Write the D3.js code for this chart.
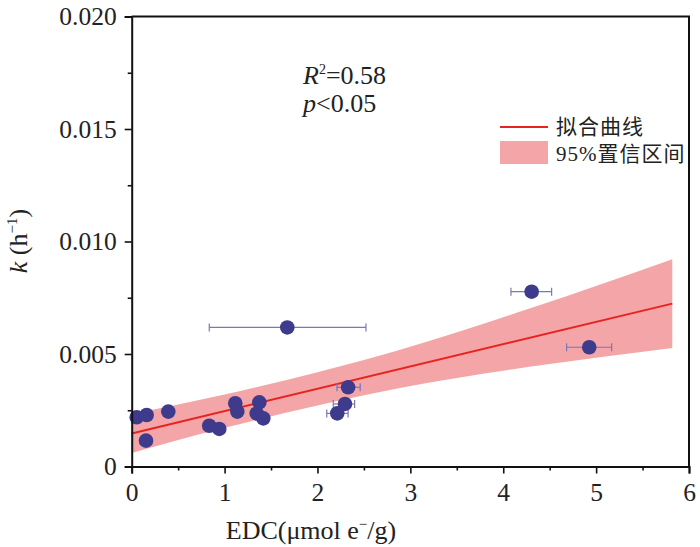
<!DOCTYPE html>
<html>
<head>
<meta charset="utf-8">
<script src="https://cdn.jsdelivr.net/npm/d3@7"></script>
<style>
  body { margin: 0; background: #fff; }
  svg { display: block; }
  text { font-family: "Liberation Serif", "Noto Sans CJK SC", serif; }
</style>
</head>
<body>
<script>
// points: EDC (umol e-/g) vs k (h^-1)
const edc = [0.054, 0.161, 0.154, 0.394, 0.835, 0.943, 1.115, 1.137, 1.374, 1.346, 1.417, 1.675, 2.213, 2.296, 2.33, 4.306, 4.926];
const kVal = [0.00219, 0.00229, 0.00115, 0.00244, 0.00181, 0.00167, 0.00281, 0.00244, 0.00285, 0.00236, 0.00214, 0.00618, 0.00236, 0.00278, 0.00352, 0.00777, 0.0053];
// horizontal error bars (low, high); null = no bar drawn
const edcLow = [null, null, null, null, null, null, null, null, null, null, null, 0.835, 2.10, 2.17, 2.21, 4.083, 4.682];
const edcHigh = [null, null, null, null, null, null, null, null, null, null, null, 2.522, 2.33, 2.40, 2.46, 4.521, 5.167];

// fitted line and 95% band
const fitX = [0, 5.82];
const fitY = [0.00147, 0.00724];
const bandX = [0, 1, 2, 2.9, 4.3, 5.82];
const bandLow = [0.00060, 0.00172, 0.00271, 0.00350, 0.00444, 0.00527];
const bandHigh = [0.00234, 0.00320, 0.00419, 0.00520, 0.00704, 0.00921];

const xTicks = [0, 1, 2, 3, 4, 5, 6];
const xMinor = [0.5, 1.5, 2.5, 3.5, 4.5, 5.5];
const yTicks = [0, 0.005, 0.010, 0.015, 0.020];
const yMinor = [0.0025, 0.0075, 0.0125, 0.0175];

const legendLabels = ["拟合曲线", "95%置信区间"];

const width = 700, height = 547;
const margin = {top: 16.5, right: 11, bottom: 80.5, left: 131.7};

const svg = d3.select("body").append("svg")
    .attr("width", width)
    .attr("height", height);

const x = d3.scaleLinear().domain([0, 6]).range([margin.left, width - margin.right]);
const y = d3.scaleLinear().domain([0, 0.02]).range([height - margin.bottom, margin.top]);

// band
svg.append("path")
    .datum(bandX.map((d, i) => ({x: d, lo: bandLow[i], hi: bandHigh[i]})))
    .attr("fill", "#f4a5a7")
    .attr("d", d3.area()
        .x(d => x(d.x))
        .y0(d => y(d.lo))
        .y1(d => y(d.hi))
        .curve(d3.curveMonotoneX));

// fit line
svg.append("path")
    .datum(fitX.map((d, i) => [d, fitY[i]]))
    .attr("fill", "none")
    .attr("stroke", "#e8231f")
    .attr("stroke-width", 2)
    .attr("d", d3.line().x(d => x(d[0])).y(d => y(d[1])));

// error bars
const pts = edc.map((d, i) => ({x: d, y: kVal[i], lo: edcLow[i], hi: edcHigh[i]}));
const err = svg.append("g")
    .attr("stroke", "#7a76b8")
    .attr("stroke-width", 1.2)
  .selectAll("g")
  .data(pts.filter(d => d.lo != null))
  .join("g");
err.append("line")
    .attr("x1", d => x(d.lo)).attr("x2", d => x(d.hi))
    .attr("y1", d => y(d.y)).attr("y2", d => y(d.y));
err.append("line")
    .attr("x1", d => x(d.lo)).attr("x2", d => x(d.lo))
    .attr("y1", d => y(d.y) - 4).attr("y2", d => y(d.y) + 4);
err.append("line")
    .attr("x1", d => x(d.hi)).attr("x2", d => x(d.hi))
    .attr("y1", d => y(d.y) - 4).attr("y2", d => y(d.y) + 4);

// points
svg.append("g")
  .selectAll("circle")
  .data(pts)
  .join("circle")
    .attr("cx", d => x(d.x))
    .attr("cy", d => y(d.y))
    .attr("r", 7.3)
    .attr("fill", "#3e3a8c");

// axes
svg.append("g")
    .attr("transform", `translate(0,${y(0)})`)
    .call(d3.axisBottom(x).tickValues(xTicks).tickSize(7).tickPadding(9).tickFormat(d3.format("d")));
svg.append("g")
    .attr("transform", `translate(0,${y(0)})`)
    .call(d3.axisBottom(x).tickValues(xMinor).tickSize(4).tickFormat(""))
    .call(g => g.select(".domain").remove());

svg.append("g")
    .attr("transform", `translate(${x(0)},0)`)
    .call(d3.axisLeft(y).tickValues(yTicks).tickSize(7).tickPadding(8)
        .tickFormat(d => d === 0 ? "0" : d3.format(".3f")(d)));
svg.append("g")
    .attr("transform", `translate(${x(0)},0)`)
    .call(d3.axisLeft(y).tickValues(yMinor).tickSize(4).tickFormat(""))
    .call(g => g.select(".domain").remove());

svg.selectAll(".domain").attr("stroke-width", 2).attr("stroke", "#111");
svg.selectAll(".tick line").attr("stroke-width", 1.6).attr("stroke", "#111");
svg.selectAll(".tick text").attr("font-size", 25.5).attr("fill", "#222");

// frame top and right
svg.append("path")
    .attr("fill", "none")
    .attr("stroke", "#111")
    .attr("stroke-width", 2)
    .attr("d", `M${x(0)},${y(0.02)}H${x(6)}V${y(0)}`);

// axis titles
const xt = svg.append("text")
    .attr("x", 311).attr("y", 539)
    .attr("text-anchor", "middle")
    .attr("font-size", 26)
    .attr("fill", "#222");
xt.append("tspan").text("EDC(μmol e");
xt.append("tspan").attr("dy", -10).attr("font-size", 15).text("−");
xt.append("tspan").attr("dy", 10).text("/g)");

const yt = svg.append("text")
    .attr("transform", "translate(27,241) rotate(-90)")
    .attr("text-anchor", "middle")
    .attr("font-size", 26)
    .attr("fill", "#222");
yt.append("tspan").attr("font-style", "italic").text("k");
yt.append("tspan").text(" (h");
yt.append("tspan").attr("dy", -10).attr("font-size", 15).text("−1");
yt.append("tspan").attr("dy", 10).text(")");

// stats
const r2 = svg.append("text").attr("x", 303).attr("y", 84).attr("font-size", 26).attr("fill", "#222");
r2.append("tspan").attr("font-style", "italic").text("R");
r2.append("tspan").attr("dy", -10).attr("font-size", 14).text("2");
r2.append("tspan").attr("dy", 10).text("=0.58");
const pv = svg.append("text").attr("x", 303).attr("y", 112).attr("font-size", 26).attr("fill", "#222");
pv.append("tspan").attr("font-style", "italic").text("p");
pv.append("tspan").text("<0.05");

// legend
const lg = svg.append("g").attr("transform", "translate(500,127)");
lg.append("line").attr("x1", 0).attr("x2", 48).attr("stroke", "#e8231f").attr("stroke-width", 2);
lg.append("rect").attr("x", 0).attr("y", 14).attr("width", 48).attr("height", 23).attr("fill", "#f4a5a7");
lg.selectAll("text.lab")
  .data(legendLabels)
  .join("text")
    .attr("class", "lab")
    .attr("x", 56)
    .attr("y", (d, i) => i * 27 + 7)
    .attr("font-size", 21)
    .attr("letter-spacing", 1)
    .attr("fill", "#222")
    .text(d => d);
</script>
</body>
</html>
